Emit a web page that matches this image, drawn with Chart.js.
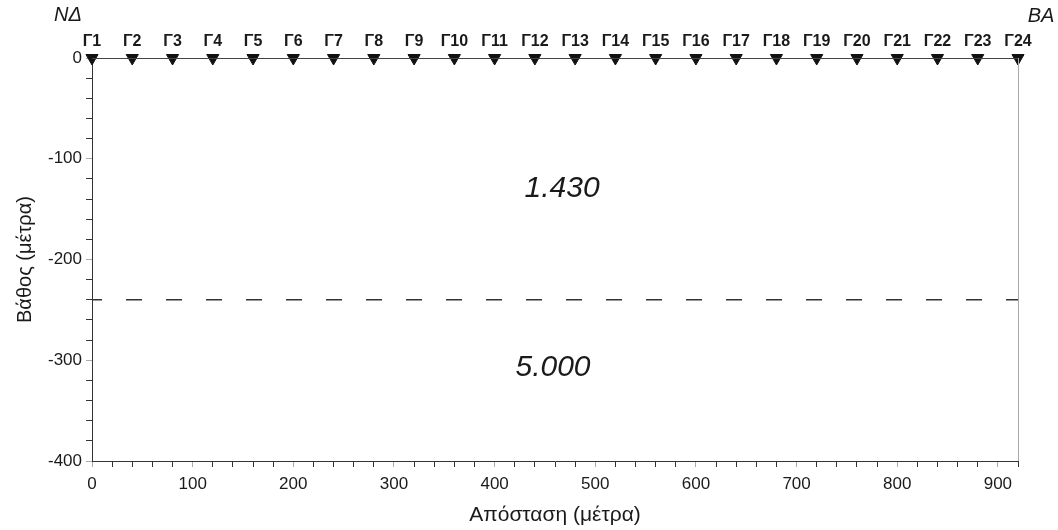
<!DOCTYPE html>
<html>
<head>
<meta charset="utf-8">
<script src="https://cdn.jsdelivr.net/npm/chart.js@4/dist/chart.umd.min.js"></script>
<style>
    html, body { margin: 0; padding: 0; background: #fff; }
    canvas { display: block; }
</style>
</head>
<body>
<canvas id="sectionChart" width="1058" height="530"></canvas>
<script>
// ========================================
// DATA
// ========================================
const geophoneNames = ['Γ1', 'Γ2', 'Γ3', 'Γ4', 'Γ5', 'Γ6', 'Γ7', 'Γ8', 'Γ9', 'Γ10', 'Γ11', 'Γ12',
    'Γ13', 'Γ14', 'Γ15', 'Γ16', 'Γ17', 'Γ18', 'Γ19', 'Γ20', 'Γ21', 'Γ22', 'Γ23', 'Γ24'];
const geophoneX = [0, 40, 80, 120, 160, 200, 240, 280, 320, 360, 400, 440,
    480, 520, 560, 600, 640, 680, 720, 760, 800, 840, 880, 920];
const geophoneDepth = 0;

const interfaceX = [0, 920];
const interfaceDepth = [-240, -240];

const layerLabels = ['1.430', '5.000'];
const layerLabelX = [467, 458];
const layerLabelY = [-130, -307];

const endLabels = ['ΝΔ', 'ΒΑ'];

const xRange = [0, 920];
const yRange = [-400, 0];

const FONT = '"Liberation Sans", Arial, sans-serif';
const INK = '#1a1a1a';

// ========================================
// ANNOTATION PLUGIN
// ========================================
const sectionLabels = {
    id: 'sectionLabels',
    afterDraw(chart) {
        const { ctx, chartArea, scales } = chart;
        const xs = scales.x;
        const ys = scales.y;
        ctx.save();

        // top and right frame
        ctx.lineWidth = 1;
        ctx.strokeStyle = '#444';
        ctx.beginPath();
        ctx.moveTo(chartArea.left, chartArea.top + 0.5);
        ctx.lineTo(chartArea.right, chartArea.top + 0.5);
        ctx.stroke();
        ctx.strokeStyle = '#aaa';
        ctx.beginPath();
        ctx.moveTo(chartArea.right + 0.5, chartArea.top);
        ctx.lineTo(chartArea.right + 0.5, chartArea.bottom);
        ctx.stroke();

        // geophone names
        ctx.fillStyle = INK;
        ctx.textAlign = 'center';
        ctx.textBaseline = 'middle';
        ctx.font = 'bold 16px ' + FONT;
        geophoneNames.forEach((name, i) => {
            ctx.fillText(name, xs.getPixelForValue(geophoneX[i]), chartArea.top - 16);
        });

        // layer velocities
        ctx.font = 'italic 30px ' + FONT;
        layerLabels.forEach((txt, i) => {
            ctx.fillText(txt, xs.getPixelForValue(layerLabelX[i]), ys.getPixelForValue(layerLabelY[i]));
        });

        // profile ends
        ctx.font = 'italic 20px ' + FONT;
        ctx.fillText(endLabels[0], chartArea.left - 24, 15);
        ctx.fillText(endLabels[1], chartArea.right + 23, 16);

        ctx.restore();
    }
};

// ========================================
// CHART
// ========================================
const tickColour = (c) => (c.tick && c.tick.value % 100 === 0) ? '#aaa' : '#333';

new Chart(document.getElementById('sectionChart'), {
    type: 'scatter',
    data: {
        datasets: [
            {
                label: 'Διεπιφάνεια',
                data: interfaceX.map((x, i) => ({ x: x, y: interfaceDepth[i] })),
                showLine: true,
                borderColor: '#333',
                borderWidth: 1.5,
                borderDash: [16, 24],
                borderDashOffset: 6,
                pointRadius: 0
            },
            {
                label: 'Γεώφωνα',
                data: geophoneX.map(x => ({ x: x, y: geophoneDepth })),
                pointStyle: 'triangle',
                rotation: 180,
                pointRadius: 7,
                backgroundColor: '#111',
                borderColor: '#111',
                borderWidth: 1,
                clip: false
            }
        ]
    },
    options: {
        responsive: false,
        animation: false,
        layout: {
            padding: { left: 0, right: 40, top: 58, bottom: 0 }
        },
        plugins: {
            legend: { display: false },
            tooltip: { enabled: false }
        },
        scales: {
            x: {
                type: 'linear',
                min: xRange[0],
                max: xRange[1],
                afterFit: (s) => { s.height = 69; },
                grid: {
                    drawOnChartArea: false,
                    tickLength: 6,
                    tickColor: tickColour
                },
                border: { color: '#333', width: 1 },
                ticks: {
                    stepSize: 20,
                    autoSkip: false,
                    maxRotation: 0,
                    padding: 7,
                    color: INK,
                    font: { family: FONT, size: 17 },
                    callback: (v) => v % 100 === 0 ? v : ''
                },
                title: {
                    display: true,
                    text: 'Απόσταση (μέτρα)',
                    color: INK,
                    font: { family: FONT, size: 21 },
                    padding: { top: 0, bottom: 2 }
                }
            },
            y: {
                type: 'linear',
                min: yRange[0],
                max: yRange[1],
                afterFit: (s) => { s.width = 92; },
                grid: {
                    drawOnChartArea: false,
                    tickLength: 6,
                    tickColor: tickColour
                },
                border: { color: '#333', width: 1 },
                ticks: {
                    stepSize: 20,
                    autoSkip: false,
                    padding: 4,
                    color: INK,
                    font: { family: FONT, size: 17 },
                    callback: (v) => v % 100 === 0 ? v : ''
                },
                title: {
                    display: true,
                    text: 'Βάθος (μέτρα)',
                    color: INK,
                    font: { family: FONT, size: 20 },
                    padding: { top: 13, bottom: 0 }
                }
            }
        }
    },
    plugins: [sectionLabels]
});
</script>
</body>
</html>
